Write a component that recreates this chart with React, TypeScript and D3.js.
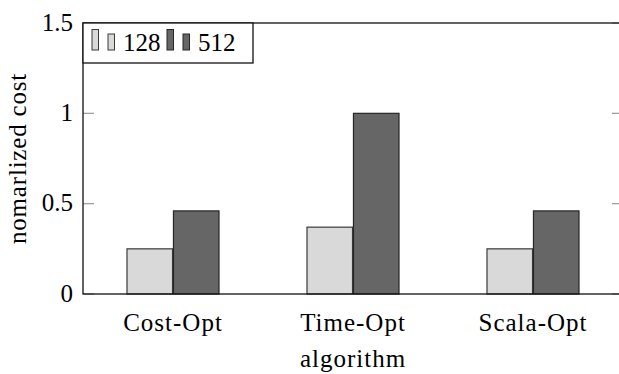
import React from "react";
import * as d3 from "d3";

// values
const categories = ["Cost-Opt", "Time-Opt", "Scala-Opt"];
const seriesNames = ["128", "512"];
const values128 = [0.25, 0.37, 0.25];
const values512 = [0.46, 1.0, 0.46];
const yTicks = [0, 0.5, 1, 1.5];

const W = 619;
const H = 374;
const margin = { left: 83, top: 23, right: 623, bottom: 294 };
const font = "Liberation Serif, DejaVu Serif";
const fills = ["#d9d9d9", "#666666"];
const strokes = ["#3a3a3a", "#262626"];

export default function App() {
  const x = d3.scaleBand().domain(categories).range([margin.left, margin.right]);
  const x1 = d3.scaleBand().domain(seriesNames).range([-46, 46]).paddingInner(0.02);
  const y = d3.scaleLinear().domain([0, 1.5]).range([margin.bottom, margin.top]);
  const series = [values128, values512];
  const tickLen = 11;

  return (
    <svg
      width={W}
      height={H}
      style={{ position: "absolute", left: 0, top: 0, background: "#fff", fontFamily: font }}
    >
      {/* bars */}
      {categories.map((c, i) => (
        <g key={c} transform={`translate(${x(c)! + x.bandwidth() / 2},0)`}>
          {seriesNames.map((s, j) => (
            <rect
              key={s}
              x={x1(s)}
              y={y(series[j][i])}
              width={x1.bandwidth()}
              height={y(0) - y(series[j][i])}
              fill={fills[j]}
              stroke={strokes[j]}
              strokeWidth={1.2}
            />
          ))}
        </g>
      ))}

      {/* ticks, left and mirrored right */}
      {yTicks.map((t) => (
        <g key={t}>
          <line x1={margin.left} x2={margin.left + tickLen} y1={y(t)} y2={y(t)} stroke="#9a9a9a" strokeWidth={1.2} />
          <line x1={margin.right - tickLen} x2={margin.right} y1={y(t)} y2={y(t)} stroke="#9a9a9a" strokeWidth={1.2} />
          <text x={73} y={y(t)} dy="0.3em" textAnchor="end" fontSize={25}>
            {t}
          </text>
        </g>
      ))}

      {/* axis frame */}
      <rect
        x={margin.left}
        y={margin.top}
        width={margin.right - margin.left}
        height={margin.bottom - margin.top}
        fill="none"
        stroke="#111"
        strokeWidth={1.3}
      />

      {/* category labels */}
      {categories.map((c) => (
        <text
          key={c}
          x={x(c)! + x.bandwidth() / 2}
          y={331}
          textAnchor="middle"
          fontSize={25}
          letterSpacing={1}
        >
          {c}
        </text>
      ))}

      <text x={353} y={367} textAnchor="middle" fontSize={25} letterSpacing={1}>
        algorithm
      </text>
      <text
        transform={`translate(26,${(margin.top + margin.bottom) / 2}) rotate(-90)`}
        textAnchor="middle"
        fontSize={25}
        letterSpacing={0.8}
      >
        nomarlized cost
      </text>

      {/* legend */}
      <g>
        <rect x={83} y={23} width={170} height={40} fill="#fff" stroke="#111" strokeWidth={1.3} />
        {seriesNames.map((s, j) => {
          const ox = 92 + j * 75;
          return (
            <g key={s}>
              <rect x={ox} y={29.5} width={6.5} height={20.5} fill={fills[j]} stroke={strokes[j]} strokeWidth={1} />
              <rect x={ox + 16} y={34} width={6.5} height={16} fill={fills[j]} stroke={strokes[j]} strokeWidth={1} />
              <text x={ox + 31} y={51} fontSize={25}>
                {s}
              </text>
            </g>
          );
        })}
      </g>
    </svg>
  );
}
